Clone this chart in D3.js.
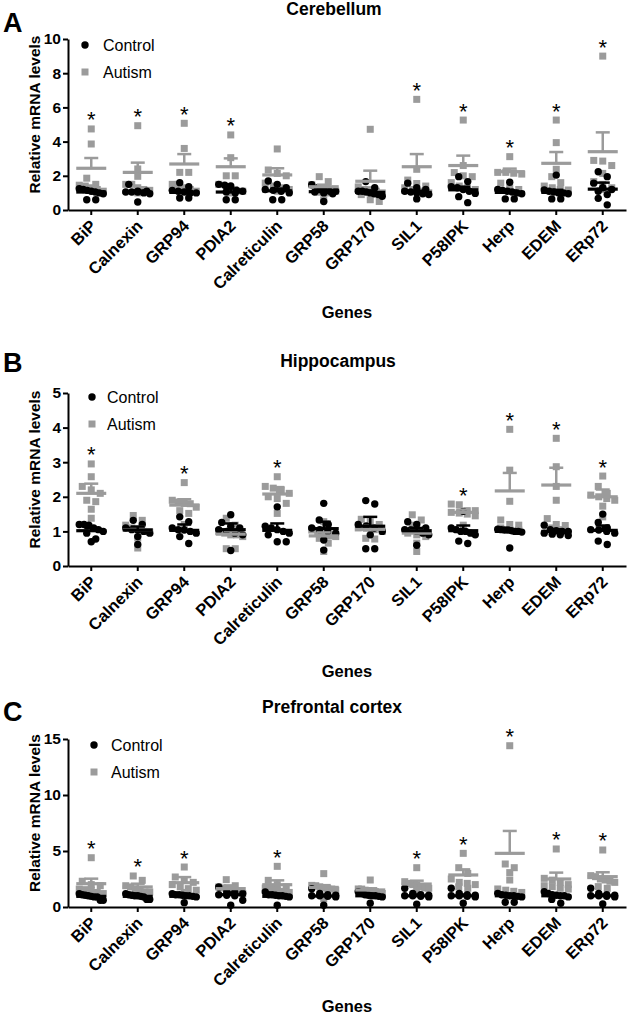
<!DOCTYPE html>
<html><head><meta charset="utf-8">
<script src="https://cdn.jsdelivr.net/npm/d3@7"></script>
<style>body{margin:0;background:#fff}svg{display:block}</style>
</head><body><svg id="c" width="632" height="1020"></svg>
<script>
const genes = ["BiP","Calnexin","GRP94","PDIA2","Calreticulin","GRP58","GRP170","SIL1","P58IPK","Herp","EDEM","ERp72"];
const titles = ["Cerebellum","Hippocampus","Prefrontal cortex"];
const ticksA = [0,2,4,6,8,10], ticksB = [0,1,2,3,4,5], ticksC = [0,5,10,15];

// Cerebellum
const ctrlA = [
 [1.2,1.25,1.1,1.15,1.0,0.95,0.6,0.6,1.05],
 [1.5,1.05,1.05,1.0,1.1,0.95,0.47,1.05,1.1],
 [1.6,1.36,1.05,1.0,0.7,0.7,1.1,1.15,1.0],
 [1.5,1.45,1.4,1.05,0.6,0.6,1.1,1.0,1.15],
 [1.7,1.5,1.2,1.1,0.6,0.6,1.15,1.3,1.0],
 [1.48,1.3,1.1,0.5,1.0,1.2,0.95,1.1,1.05],
 [1.66,1.3,1.1,0.9,0.8,1.0,1.05,0.95,1.1],
 [1.57,1.3,1.0,0.65,1.1,1.05,0.95,1.2,0.9],
 [1.95,1.66,1.36,0.97,0.78,0.43,1.2,1.1,1.3],
 [1.62,1.2,1.05,0.65,0.65,1.0,1.1,0.95,1.15],
 [2.04,1.17,1.0,0.65,0.65,1.05,0.95,1.1,1.0],
 [2.24,1.95,1.57,1.2,0.68,0.3,1.3,1.1,0.9]];
const autA = [
 [4.74,3.86,1.86,1.45,1.2,1.3,1.5,1.1,1.4],
 [4.93,2.4,1.97,1.5,1.5,1.15,1.3,1.2,1.0],
 [5.07,3.6,2.2,2.2,1.5,1.5,1.3,1.1,1.2],
 [4.39,3.06,2.0,2.0,1.5,1.3,1.2,1.1,1.0],
 [3.57,2.34,2.14,1.57,1.4,1.2,1.3,1.1,2.0],
 [1.95,1.66,1.48,1.19,1.04,0.6,1.3,1.1,1.0],
 [4.72,1.35,1.19,0.9,0.6,0.5,1.0,1.1,1.2],
 [6.47,2.38,1.75,1.55,1.4,1.2,1.1,1.3,1.0],
 [5.26,2.6,2.19,1.95,1.6,1.4,1.2,1.3,2.0],
 [3.12,2.2,2.2,2.1,1.57,1.3,1.2,1.1,2.15],
 [5.26,3.94,2.38,1.95,1.6,1.17,1.3,1.2,1.4],
 [9.0,2.9,2.86,2.6,2.14,1.66,1.5,1.3,1.2]];
const meanCtrlA = [1.05,1.03,1.03,1.05,1.12,1.07,1.03,1.03,1.18,1.03,1.03,1.22];
const semCtrlA  = [0.08,0.1,0.1,0.2,0.12,0.1,0.1,0.1,0.18,0.1,0.15,0.38];
const meanAutA  = [2.44,2.2,2.69,2.53,2.05,1.36,1.68,2.53,2.6,2.24,2.73,3.41];
const semAutA   = [0.6,0.57,0.58,0.49,0.39,0.12,0.62,0.74,0.58,0.18,0.66,1.13];
const sigA = ["BiP","Calnexin","GRP94","PDIA2","SIL1","P58IPK","Herp","EDEM","ERp72"];

// Hippocampus
const ctrlB = [
 [1.2,1.2,1.18,0.7,0.78,1.0,0.95,1.05,1.1],
 [1.32,1.2,1.04,0.85,0.62,1.0,1.1,1.05,0.95],
 [1.42,1.28,1.04,0.65,0.85,1.0,1.1,0.95,1.05],
 [1.48,1.26,1.1,0.9,0.45,1.05,1.0,1.15,0.95],
 [1.71,0.7,0.7,1.0,1.05,1.1,0.95,1.15,0.9],
 [1.81,1.33,0.75,0.46,1.1,1.0,1.2,1.05,0.95],
 [1.89,1.79,1.16,0.5,0.5,1.1,1.0,1.2,0.9],
 [1.28,1.2,1.04,0.9,0.6,1.1,1.0,0.95,1.05],
 [1.58,0.9,0.65,0.72,1.0,1.05,0.95,1.1,1.0],
 [1.04,1.04,1.0,1.06,0.52,1.0,1.05,0.98,1.02],
 [1.18,0.9,0.88,0.92,1.0,1.05,0.95,1.0,1.02],
 [1.5,1.26,1.04,0.72,0.62,1.0,1.05,0.95,1.1]];
const autB = [
 [2.95,2.58,1.86,1.64,1.38,1.9,2.3,2.1,2.2],
 [1.46,1.32,1.18,0.98,0.81,0.52,1.1,1.0,1.05],
 [2.41,1.81,1.8,1.52,1.2,1.9,1.7,1.6,1.85],
 [1.38,1.18,0.9,0.5,0.5,0.95,1.0,0.85,0.9],
 [2.58,2.25,1.81,1.52,2.1,2.2,2.0,1.95,2.3],
 [1.28,1.04,0.87,0.66,0.42,0.9,0.85,0.8,0.95],
 [1.35,1.28,1.09,0.8,0.78,1.1,1.0,1.05,1.2],
 [1.48,1.33,1.18,0.98,0.66,0.42,0.9,0.95,0.85],
 [1.79,1.77,1.55,1.53,1.18,1.5,1.6,1.45,1.6],
 [3.95,2.77,1.87,1.33,1.18,1.04,1.1,1.2,1.05],
 [3.69,2.87,2.3,1.9,1.37,1.17,1.1,1.05,1.2],
 [2.6,2.3,2.0,1.73,1.42,1.95,2.05,1.9,2.1]];
const meanCtrlB = [1.02,1.04,1.03,1.05,1.03,1.08,1.15,1.02,1.02,1.0,1.0,1.03];
const semCtrlB  = [0.08,0.1,0.17,0.18,0.2,0.2,0.27,0.08,0.15,0.05,0.06,0.14];
const meanAutB  = [2.1,1.05,1.76,0.92,2.08,0.87,1.06,0.95,1.55,2.17,2.34,2.0];
const semAutB   = [0.28,0.08,0.17,0.09,0.2,0.1,0.1,0.1,0.08,0.52,0.5,0.21];
const sigB = ["BiP","GRP94","Calreticulin","P58IPK","Herp","EDEM","ERp72"];

// Prefrontal cortex
const ctrlC = [
 [1.19,0.9,0.6,0.6,1.0,1.05,0.95,1.1,0.9],
 [1.19,1.0,0.68,0.68,1.05,0.95,1.1,0.9,1.0],
 [1.19,1.1,0.39,1.0,0.95,1.05,0.9,1.0,1.1],
 [1.79,1.34,1.0,0.6,0.15,1.1,1.2,1.05,1.3],
 [1.34,1.1,1.0,0.15,0.95,1.05,0.9,1.0,1.1],
 [1.64,1.2,1.0,0.15,0.95,1.05,1.1,0.9,1.0],
 [1.37,1.2,1.0,0.33,0.95,1.05,1.1,0.9,1.0],
 [1.67,1.2,1.05,0.24,0.95,1.0,1.1,0.9,1.0],
 [1.67,1.2,0.95,0.33,1.0,1.05,1.1,0.9,1.0],
 [1.22,0.95,0.42,0.42,1.0,1.05,1.1,0.9,1.0],
 [1.37,1.2,0.68,0.33,1.0,1.05,1.1,0.9,1.0],
 [1.67,1.1,0.9,0.27,1.0,1.05,1.2,0.95,1.0]];
const autC = [
 [4.4,2.3,1.9,1.55,1.5,1.3,1.6,2.0,1.2],
 [2.77,2.38,1.79,1.34,1.34,1.5,1.6,1.2,1.9],
 [3.57,2.68,2.38,1.64,1.5,2.0,1.8,1.3,2.2],
 [2.44,1.79,1.49,1.34,1.3,1.6,1.7,1.2,1.9],
 [3.63,2.38,1.79,1.5,1.6,1.4,1.3,2.0,1.7],
 [2.98,1.93,1.64,1.5,0.74,1.7,1.8,1.6,1.9],
 [2.41,1.61,1.37,1.2,1.5,1.6,1.4,1.45,1.2],
 [3.51,2.26,1.96,1.67,1.8,2.0,1.7,2.1,1.5],
 [4.79,3.51,2.11,1.67,1.8,2.5,3.0,2.2,2.0],
 [14.4,3.84,3.51,3.07,2.41,1.61,1.3,1.5,1.4],
 [5.18,2.56,1.82,1.67,2.0,2.4,1.9,1.6,2.2],
 [5.09,2.71,2.41,1.82,1.67,2.5,2.2,2.8,2.3]];
const meanCtrlC = [0.95,0.95,0.95,1.1,0.95,0.98,1.0,1.0,1.0,1.0,1.0,1.0];
const semCtrlC  = [0.07,0.06,0.08,0.2,0.1,0.12,0.1,0.12,0.12,0.1,0.12,0.12];
const meanAutC  = [2.08,1.79,2.17,1.64,1.99,1.75,1.52,2.05,2.86,4.79,2.5,2.71];
const semAutC   = [0.45,0.29,0.5,0.29,0.39,0.2,0.15,0.3,0.5,2.0,0.57,0.39];
const sigC = ["BiP","Calnexin","GRP94","Calreticulin","SIL1","P58IPK","Herp","EDEM","ERp72"];

const panels = [
 {letter:"A", title:titles[0], ticks:ticksA, ctrl:ctrlA, aut:autA, mC:meanCtrlA, sC:semCtrlA, mA:meanAutA, sA:semAutA, sig:sigA,
  y0:210, y1:39, letterY:32, titleX:334, titleY:15, genesY:318, legX:85, legY:45, legTX:103},
 {letter:"B", title:titles[1], ticks:ticksB, ctrl:ctrlB, aut:autB, mC:meanCtrlB, sC:semCtrlB, mA:meanAutB, sA:semAutB, sig:sigB,
  y0:566, y1:393, letterY:372, titleX:338, titleY:367, genesY:677, legX:92, legY:397, legTX:107},
 {letter:"C", title:titles[2], ticks:ticksC, ctrl:ctrlC, aut:autC, mC:meanCtrlC, sC:semCtrlC, mA:meanAutC, sA:semAutC, sig:sigC,
  y0:907, y1:739, letterY:721, titleX:332, titleY:713, genesY:1012, legX:94, legY:745, legTX:111}
];

const GREY = "#9b9b9b";
const FONT = "Arial, 'Liberation Sans', Helvetica, sans-serif";
const svg = d3.select("#c");
svg.append("rect").attr("width",632).attr("height",1020).attr("fill","#fff");
const AX0 = 68, AX1 = 626;
const x = d3.scaleBand().domain(genes).range([AX0, AX1]);
const cx = gname => x(gname) + x.bandwidth()/2;

function swarm(vals, y, size) {
  const pts = vals.map(v => ({v, py: y(v)})).sort((a,b) => a.py - b.py);
  const clusters = [];
  pts.forEach(p => {
    const last = clusters[clusters.length-1];
    if (last && p.py - last[0].py < size) last.push(p); else clusters.push([p]);
  });
  clusters.forEach(cl => {
    const k = cl.length;
    const sp = k > 1 ? Math.min(9, 24/(k-1)) : 0;
    cl.forEach((p,i) => { p.dx = (i - (k-1)/2) * sp; });
  });
  return pts;
}

panels.forEach(P => {
  const y = d3.scaleLinear().domain([0, d3.max(P.ticks)]).range([P.y0, P.y1]);
  const g = svg.append("g");

  const ya = g.append("g").attr("transform", `translate(${AX0},0)`)
    .call(d3.axisLeft(y).tickValues(P.ticks).tickFormat(d3.format("d")).tickSize(5).tickSizeOuter(0).tickPadding(2));
  ya.attr("font-family", FONT);
  ya.select(".domain").attr("stroke","#000").attr("stroke-width",2);
  ya.selectAll(".tick line").attr("stroke","#000").attr("stroke-width",2);
  ya.selectAll(".tick text").attr("font-size",15.5).attr("font-weight","bold").attr("fill","#000");

  const xa = g.append("g").attr("transform", `translate(0,${P.y0})`)
    .call(d3.axisBottom(x).tickSize(5).tickSizeOuter(0));
  xa.attr("font-family", FONT);
  xa.select(".domain").attr("stroke","#000").attr("stroke-width",2.2);
  xa.selectAll(".tick line").attr("stroke","#000").attr("stroke-width",2);
  xa.selectAll(".tick text").attr("font-size",16.5).attr("font-weight","bold").attr("fill","#000")
    .attr("text-anchor","end").attr("x",0).attr("y",0).attr("dy",0)
    .attr("transform","translate(6,17) rotate(-45)");

  genes.forEach((gn, i) => {
    const c0 = cx(gn);
    swarm(P.aut[i], y, 7).forEach(p => {
      g.append("rect").attr("x", c0 + p.dx - 3.5).attr("y", p.py - 3.5)
        .attr("width",7).attr("height",7).attr("fill",GREY);
    });
  });
  genes.forEach((gn, i) => {
    const c0 = cx(gn);
    swarm(P.ctrl[i], y, 7).forEach(p => {
      g.append("circle").attr("cx", c0 + p.dx).attr("cy", p.py).attr("r",3.7).attr("fill","#000");
    });
  });
  function meanBar(c0, m, s, col) {
    g.append("line").attr("x1",c0-15).attr("x2",c0+15).attr("y1",y(m)).attr("y2",y(m))
      .attr("stroke",col).attr("stroke-width",3.2);
    g.append("line").attr("x1",c0).attr("x2",c0).attr("y1",y(m)).attr("y2",y(m+s))
      .attr("stroke",col).attr("stroke-width",2.5);
    g.append("line").attr("x1",c0-7).attr("x2",c0+7).attr("y1",y(m+s)).attr("y2",y(m+s))
      .attr("stroke",col).attr("stroke-width",2.5);
  }
  genes.forEach((gn,i) => meanBar(cx(gn), P.mA[i], P.sA[i], GREY));
  genes.forEach((gn,i) => meanBar(cx(gn), P.mC[i], P.sC[i], "#000"));

  P.sig.forEach(gn => {
    const i = genes.indexOf(gn);
    const top = Math.min(y(d3.max(P.aut[i])), y(P.mA[i] + P.sA[i]));
    g.append("text").attr("x", cx(gn)).attr("y", top - 1.5).attr("text-anchor","middle")
      .attr("font-family",FONT).attr("font-size",22).attr("fill","#000").text("*");
  });

  g.append("circle").attr("cx",P.legX).attr("cy",P.legY).attr("r",3.7).attr("fill","#000");
  g.append("text").attr("x",P.legTX).attr("y",P.legY+5.5).attr("font-family",FONT).attr("font-size",16).text("Control");
  g.append("rect").attr("x",P.legX-3.5).attr("y",P.legY+27-3.5).attr("width",7).attr("height",7).attr("fill",GREY);
  g.append("text").attr("x",P.legTX).attr("y",P.legY+27+5.5).attr("font-family",FONT).attr("font-size",16).text("Autism");

  g.append("text").attr("x",3).attr("y",P.letterY).attr("font-family",FONT).attr("font-size",27).attr("font-weight","bold").text(P.letter);
  g.append("text").attr("x",P.titleX).attr("y",P.titleY).attr("text-anchor","middle").attr("font-family",FONT)
    .attr("font-size",17.5).attr("font-weight","bold").text(P.title);
  g.append("text").attr("x",(AX0+AX1)/2).attr("y",P.genesY).attr("text-anchor","middle").attr("font-family",FONT)
    .attr("font-size",16.5).attr("font-weight","bold").text("Genes");
  g.append("text").attr("transform",`translate(40,${(P.y0+P.y1)/2 - 10}) rotate(-90)`).attr("text-anchor","middle")
    .attr("font-family",FONT).attr("font-size",15.5).attr("font-weight","bold").text("Relative mRNA levels");
});
</script></body></html>
